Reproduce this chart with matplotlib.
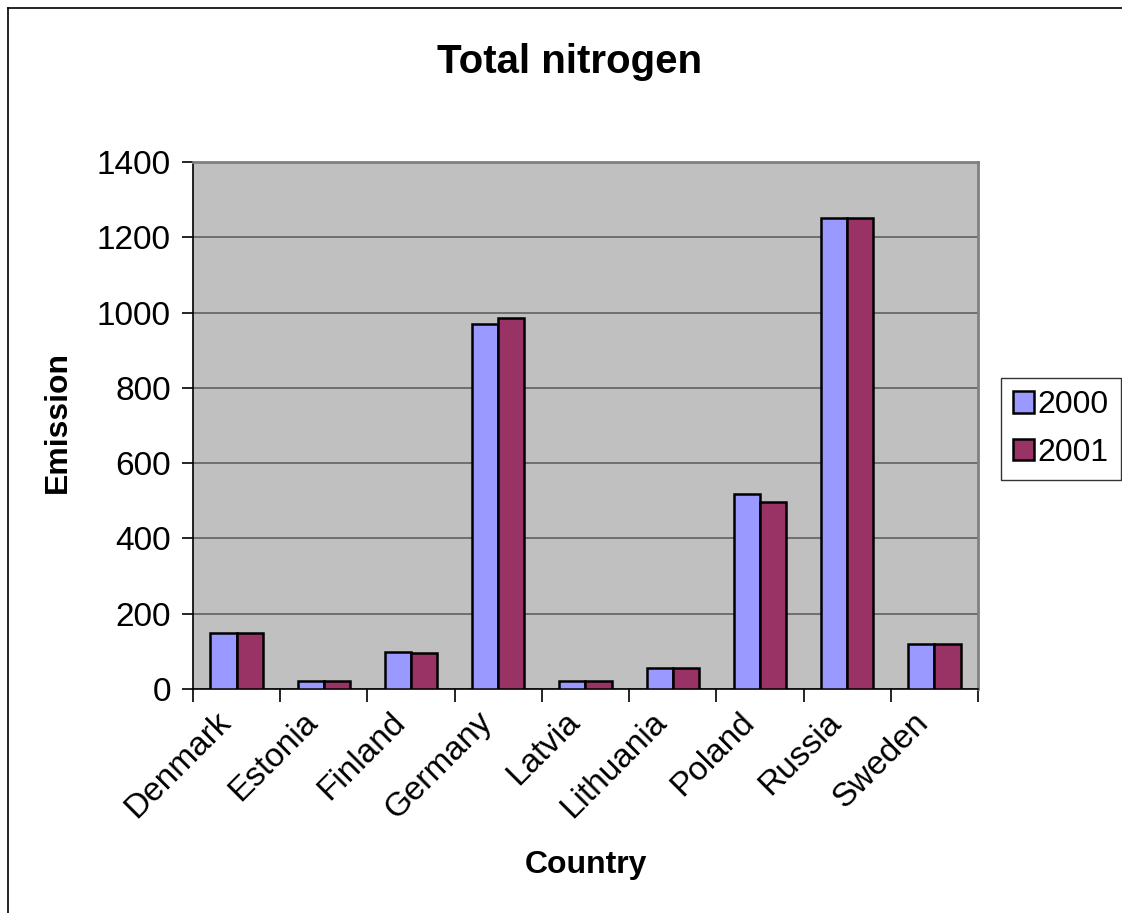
import matplotlib
matplotlib.use("Agg")
import matplotlib.pyplot as plt
import matplotlib.transforms as mtransforms
import numpy as np
from matplotlib.lines import Line2D

countries = ["Denmark", "Estonia", "Finland", "Germany", "Latvia",
             "Lithuania", "Poland", "Russia", "Sweden"]
emission_2000 = [148, 20, 99, 970, 20, 56, 518, 1250, 120]
emission_2001 = [148, 20, 95, 986, 20, 56, 497, 1250, 120]
series_labels = ["2000", "2001"]
y_ticks = [0, 200, 400, 600, 800, 1000, 1200, 1400]

plt.rcParams["font.family"] = ["Liberation Sans", "DejaVu Sans"]

W, H = 1122, 913
fig = plt.figure(figsize=(W / 100, H / 100), dpi=100)
fig.patch.set_facecolor("white")

# plot area in pixel coordinates
x0, x1, y_top, y_bot = 193, 978, 162, 689
ax = fig.add_axes([x0 / W, 1 - y_bot / H, (x1 - x0) / W, (y_bot - y_top) / H])
ax.set_facecolor("#C0C0C0")

x = np.arange(len(countries))
bw = 0.30
ax.bar(x - bw / 2, emission_2000, width=bw, color="#9999FF",
       edgecolor="black", linewidth=1.8, label=series_labels[0], zorder=3)
ax.bar(x + bw / 2, emission_2001, width=bw, color="#993366",
       edgecolor="black", linewidth=1.8, label=series_labels[1], zorder=3)

ax.set_xlim(-0.5, len(countries) - 0.5)
ax.set_ylim(0, 1400)
ax.set_yticks(y_ticks)
ax.set_yticklabels([str(v) for v in y_ticks], fontsize=24)
ax.yaxis.grid(True, color="#606060", linewidth=1.2, zorder=1)
ax.set_axisbelow(True)

# category boundary ticks, labels centred under each group
ax.set_xticks(np.arange(len(countries) + 1) - 0.5)
ax.set_xticklabels([""] * (len(countries) + 1))
ax.tick_params(axis="x", direction="out", length=9, width=1.2, color="black")
ax.tick_params(axis="y", direction="out", length=8, width=1.2, color="black", pad=8)

label_tf = ax.get_xaxis_transform() + mtransforms.ScaledTranslation(
    0, -20.5 / 72, fig.dpi_scale_trans)
for i, name in enumerate(countries):
    ax.text(i - 0.12, 0, name, rotation=45, ha="right", va="center",
            rotation_mode="anchor", fontsize=24, transform=label_tf,
            clip_on=False)

for side in ["top", "right"]:
    ax.spines[side].set_color("#808080")
    ax.spines[side].set_linewidth(2)
for side in ["left", "bottom"]:
    ax.spines[side].set_color("black")
    ax.spines[side].set_linewidth(1.2)

fig.text(570 / W, 1 - 62 / H, "Total nitrogen", ha="center", va="center",
         fontsize=29, fontweight="bold")
fig.text(586 / W, 1 - 865 / H, "Country", ha="center", va="center",
         fontsize=23, fontweight="bold")
fig.text(58 / W, 1 - 422 / H, "Emission", ha="center", va="center",
         rotation=90, fontsize=23, fontweight="bold")

leg = fig.legend(loc="upper left", bbox_to_anchor=(1001 / W, 1 - 378 / H),
                 fontsize=23, frameon=True, fancybox=False, borderpad=0.38,
                 handlelength=0.65, handleheight=0.65, handletextpad=0.12,
                 labelspacing=0.55, borderaxespad=0)
leg.get_frame().set_edgecolor("black")
leg.get_frame().set_linewidth(1.0)

# outer chart border (left and top edges)
fig.add_artist(Line2D([8 / W, 8 / W], [0, 1 - 8 / H], transform=fig.transFigure,
                      color="black", linewidth=1.2))
fig.add_artist(Line2D([8 / W, 1], [1 - 8 / H, 1 - 8 / H], transform=fig.transFigure,
                      color="black", linewidth=1.2))

fig.savefig("out.png", dpi=100)
